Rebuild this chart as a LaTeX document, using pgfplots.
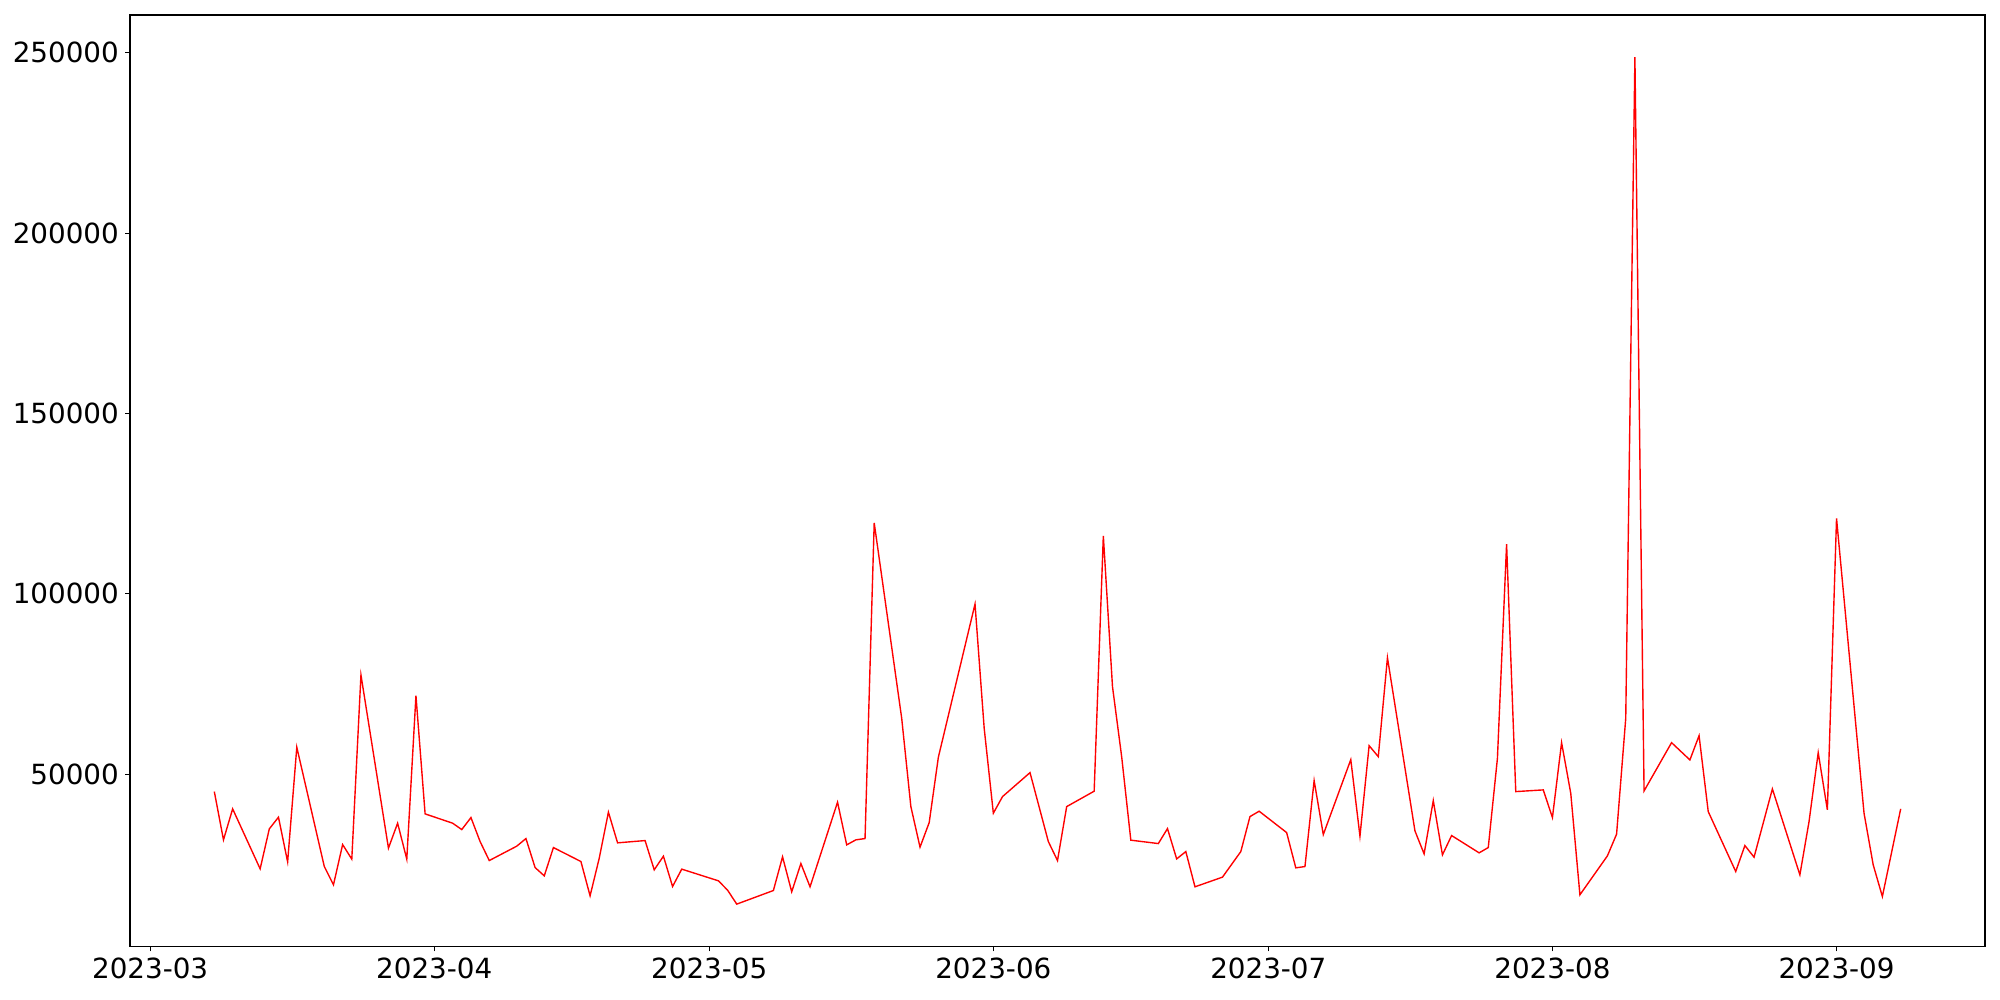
\documentclass[border=0pt]{standalone}
\usepackage{pgfplots}
\pgfplotsset{compat=1.18}
\usepackage{fontspec}
\setmainfont{DejaVu Sans}
\begin{document}
\begin{tikzpicture}
\useasboundingbox (-93.6pt,-38.5pt) rectangle (1346.4pt,681.5pt);
\begin{axis}[
  at={(0,0)}, anchor=south west,
  scale only axis,
  width=1335.6pt, height=670.7pt,
  xmin=-2.2, xmax=200.2,
  ymin=2200, ymax=260500,
  axis line style={line width=0.8pt},
  tick align=outside,
  major tick length=3.5pt,
  every tick/.style={black, line width=0.8pt},
  xtick={0,31,61,92,122,153,184},
  xticklabels={2023-03,2023-04,2023-05,2023-06,2023-07,2023-08,2023-09},
  ytick={50000,100000,150000,200000,250000},
  xtick pos=bottom, ytick pos=left,
  scaled y ticks=false,
  /pgf/number format/fixed,
  /pgf/number format/1000 sep={},
  /pgf/number format/assume math mode=true,
  ticklabel style={font=\fontsize{20}{24}\selectfont},
  xticklabel style={yshift=-1pt},
  yticklabel style={xshift=-1pt},
  clip=true,
]
\addplot[red, line width=1pt] coordinates {
(7,45160) (8,31780) (9,40370) (12,23740) (13,34820) (14,38060) (15,25680) (16,57460)
(19,24380) (20,19310) (21,30470) (22,26430) (23,77490)
(26,29480) (27,36400) (28,26430) (29,71760) (30,38980)
(33,36400) (34,34630) (35,37960) (36,31310) (37,26040)
(40,30030) (41,32140) (42,24100) (43,21800) (44,29640)
(47,25770) (48,16260) (49,26700) (50,39450) (51,30950)
(54,31580) (55,23460) (56,27260) (57,18840) (58,23660)
(62,20420) (63,17840) (64,13960)
(68,17730) (69,27070) (70,17370) (71,25210) (72,18760)
(75,42220) (76,30390) (77,31780) (78,32140) (79,119680)
(82,65490) (83,41000) (84,29750) (85,36570) (86,54690)
(90,97160) (91,62720) (92,39170) (93,43770)
(96,50420) (98,31300) (99,26040) (100,41000)
(103,45270) (104,116080) (105,74250) (106,54850) (107,31690)
(110,30750) (111,34900) (112,26500) (113,28530) (114,18760)
(117,21440) (119,28530) (120,38230) (121,39720)
(124,33800) (125,24020) (126,24380) (127,48200) (128,33250)
(131,54020) (132,32800) (133,57900) (134,54850) (135,82280)
(138,34270) (139,27900) (140,42660) (141,27620) (142,32970)
(145,28180) (146,29640) (147,54400) (148,113800) (149,45160)
(152,45630) (153,37960) (154,58730) (155,44710) (156,16540)
(159,27340) (160,33350) (161,65490) (162,248800) (163,45350)
(166,58730) (168,53940) (169,60670) (170,39620)
(173,23000) (174,30200) (175,26980) (177,45900)
(180,22080) (181,36850) (182,55960) (183,40090) (184,120900)
(187,39170) (188,24850) (189,16070) (191,40370)
};
\end{axis}
\end{tikzpicture}
\end{document}
